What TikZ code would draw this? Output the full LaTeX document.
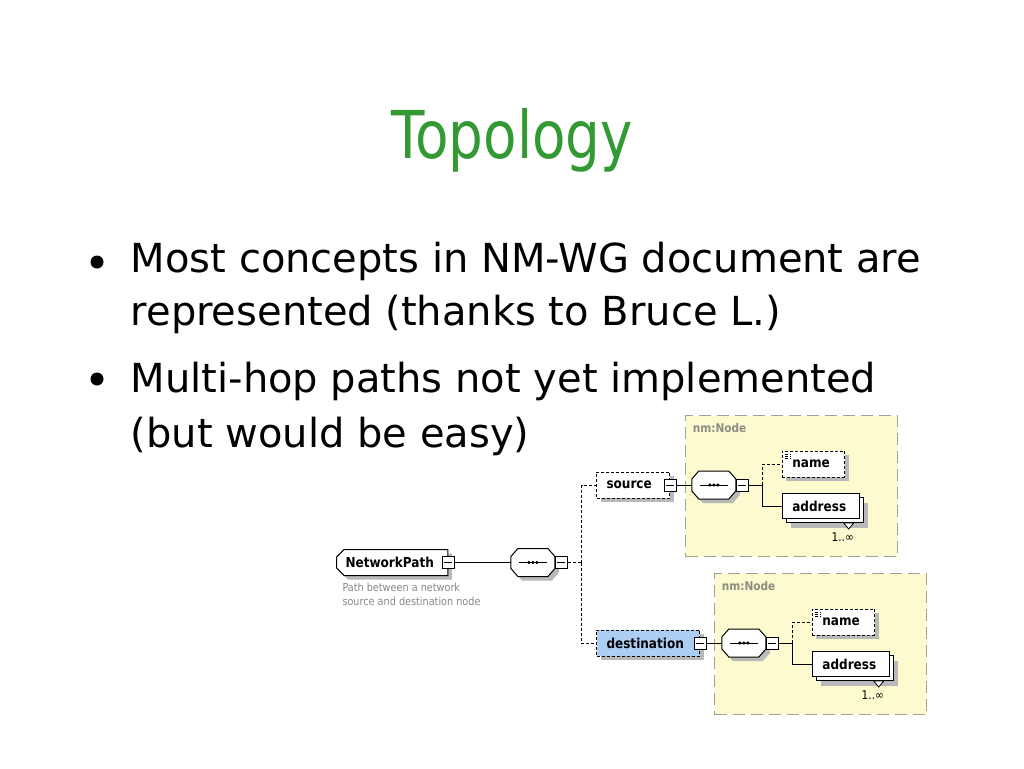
\documentclass[tikz,border=0pt]{standalone}
\usepackage{fontspec}
\setmainfont{DejaVu Sans}
\newfontfamily\titlefont{DejaVu Sans}[FakeStretch=0.83]
\newfontfamily\diafont{DejaVu Sans}[FakeStretch=0.88]
\usetikzlibrary{shapes,arrows,positioning,shadows}

\definecolor{titlegreen}{RGB}{51,153,51}
\definecolor{groupyellow}{RGB}{252,250,206}
\definecolor{groupborder}{RGB}{160,160,150}
\definecolor{grouptext}{RGB}{140,140,130}
\definecolor{destblue}{RGB}{172,206,242}
\definecolor{shadowgray}{RGB}{185,185,185}
\definecolor{desctext}{RGB}{135,135,135}

% outline of a sequence compositor round a node
\newcommand\octagonpath[1]{([xshift=7pt]#1.north west) -- ([xshift=-7pt]#1.north east)
    -- ([yshift=-8pt]#1.north east) -- ([yshift=8pt]#1.south east)
    -- ([xshift=-7pt]#1.south east) -- ([xshift=7pt]#1.south west)
    -- ([yshift=8pt]#1.south west) -- ([yshift=-8pt]#1.north west) -- cycle}

\begin{document}
\begin{tikzpicture}[x=1pt, y=-1pt, line width=1pt, >=stealth,
    bodytext/.style={anchor=base west, font=\fontsize{40}{48}\selectfont},
    bullet/.style={circle, fill, inner sep=0pt, minimum size=13pt},
    plainelem/.style={rectangle, draw, fill=white, minimum height=26pt, inner xsep=10pt,
        font=\diafont\bfseries\fontsize{13.7}{16}\selectfont},
    elem/.style={plainelem, general shadow={fill=shadowgray, draw=none, shadow xshift=4pt, shadow yshift=-4pt}},
    optelem/.style={elem, dash pattern=on 3pt off 2pt},
    multielem/.style={plainelem, minimum height=25pt,
        general shadow={fill=shadowgray, draw=none, shadow xshift=9pt, shadow yshift=-9pt},
        general shadow={fill=white, draw=black, shadow xshift=4pt, shadow yshift=-4pt}},
    minus/.style={rectangle, draw, fill=white, minimum size=12pt, inner sep=0pt,
        path picture={\draw ([xshift=2pt]path picture bounding box.west) -- ([xshift=-2pt]path picture bounding box.east);}},
    seq/.style={rectangle, minimum width=43pt, minimum height=27pt, inner sep=0pt,
        append after command={\pgfextra{
            \fill[shadowgray, transform canvas={xshift=4pt,yshift=-4pt}] \octagonpath{\tikzlastnode};
            \filldraw[fill=white] \octagonpath{\tikzlastnode};
            \draw ([xshift=8pt]\tikzlastnode.west) -- ([xshift=-8pt]\tikzlastnode.east);
            \foreach \d in {-4,0,4} \fill ([xshift=\d pt]\tikzlastnode.center) circle (1.7pt);}}},
    simple/.style={path picture={
            \foreach \d in {3,5,7} \draw[line width=0.6pt] ([xshift=3pt,yshift=-\d pt]path picture bounding box.north west) -- ++(6pt,0pt);}},
    group/.style={rectangle, draw=groupborder, fill=groupyellow, dash pattern=on 12pt off 6pt,
        minimum width=212pt, minimum height=141pt, anchor=north west},
    grouplabel/.style={anchor=north west, text=grouptext, font=\diafont\bfseries\fontsize{12}{14}\selectfont},
    many/.style={anchor=north east, font=\diafont\fontsize{12}{14}\selectfont},
    optline/.style={dash pattern=on 3pt off 2pt}]

    \useasboundingbox (0,0) rectangle (1024,768);

    % Title and bullets
    \node (title) [anchor=base, text=titlegreen, font=\titlefont\fontsize{66}{70}\selectfont] at (512,158) {Topology};
    \node (dot1) [bullet] at (97,262) {};
    \node (line1) [bodytext] at (127,272) {Most concepts in NM-WG document are};
    \node (line2) [bodytext] at (127,325) {represented (thanks to Bruce L.)};
    \node (dot2) [bullet] at (97,379) {};
    \node (line3) [bodytext] at (127,392) {Multi-hop paths not yet implemented};
    \node (line4) [bodytext] at (127,447) {(but would be easy)};

    % Type boxes
    \node (srcgroup) [group] at (685,415) {};
    \node (srclabel) [grouplabel] at ([shift={(4,5)}]srcgroup.north west) {nm:Node};
    \node (dstgroup) [group] at (714,573) {};
    \node (dstlabel) [grouplabel] at ([shift={(4,5)}]dstgroup.north west) {nm:Node};

    % Root element
    \node (np) [elem, inner xsep=5pt, chamfered rectangle, chamfered rectangle corners={north west,south west},
        chamfered rectangle xsep=4pt, anchor=west] at (336,562.5) {NetworkPath\hspace*{5pt}};
    \node (npminus) [minus] at (np.east) {};
    \node (npseq) [seq, right=56pt of npminus] {};
    \node (npseqminus) [minus, right=0pt of npseq] {};
    \coordinate [right=14pt of npseqminus] (npfork);
    \node (npdesc) [anchor=north west, align=left, text=desctext, inner sep=0pt,
        font=\diafont\fontsize{11}{14}\selectfont] at (342,583) {Path between a network\\source and destination node};

    % Source
    \node (src) [optelem, anchor=west] at (596,485) {source\hspace*{8pt}};
    \node (srcminus) [minus] at (src.east) {};
    \node (srcseq) [seq, right=15pt of srcminus] {};
    \node (srcseqminus) [minus, right=0pt of srcseq] {};
    \coordinate [right=14pt of srcseqminus] (srcfork);
    \node (srcname) [optelem, simple, anchor=west] at ([shift={(19,-21)}]srcfork) {name\hspace*{5pt}};
    \node (srcaddr) [multielem, anchor=west] at ([shift={(19,21)}]srcfork) {address\hspace*{3pt}};
    \draw[fill=white, line width=0.8pt] ([shift={(-16,4)}]srcaddr.south east) -- ++(10,0) -- ++(-5,6) -- cycle;
    \node (srcmany) [many] at ([shift={(-2,10)}]srcaddr.south east) {1..∞};

    % Destination
    \node (dst) [optelem, fill=destblue, anchor=west] at (596,643) {destination\hspace*{6pt}};
    \node (dstminus) [minus] at (dst.east) {};
    \node (dstseq) [seq, right=15pt of dstminus] {};
    \node (dstseqminus) [minus, right=0pt of dstseq] {};
    \coordinate [right=14pt of dstseqminus] (dstfork);
    \node (dstname) [optelem, simple, anchor=west] at ([shift={(19,-21)}]dstfork) {name\hspace*{5pt}};
    \node (dstaddr) [multielem, anchor=west] at ([shift={(19,21)}]dstfork) {address\hspace*{3pt}};
    \draw[fill=white, line width=0.8pt] ([shift={(-16,4)}]dstaddr.south east) -- ++(10,0) -- ++(-5,6) -- cycle;
    \node (dstmany) [many] at ([shift={(-2,10)}]dstaddr.south east) {1..∞};

    % Connections
    \draw (npminus) -- (npseq);
    \draw[optline] (npseqminus) -- (npfork);
    \draw[optline] (npfork) |- (src);
    \draw[optline] (npfork) |- (dst);
    \draw (srcminus) -- (srcseq);
    \draw (srcseqminus) -- (srcfork);
    \draw[optline] (srcfork) |- (srcname);
    \draw (srcfork) |- (srcaddr);
    \draw (dstminus) -- (dstseq);
    \draw (dstseqminus) -- (dstfork);
    \draw[optline] (dstfork) |- (dstname);
    \draw (dstfork) |- (dstaddr);
\end{tikzpicture}
\end{document}
